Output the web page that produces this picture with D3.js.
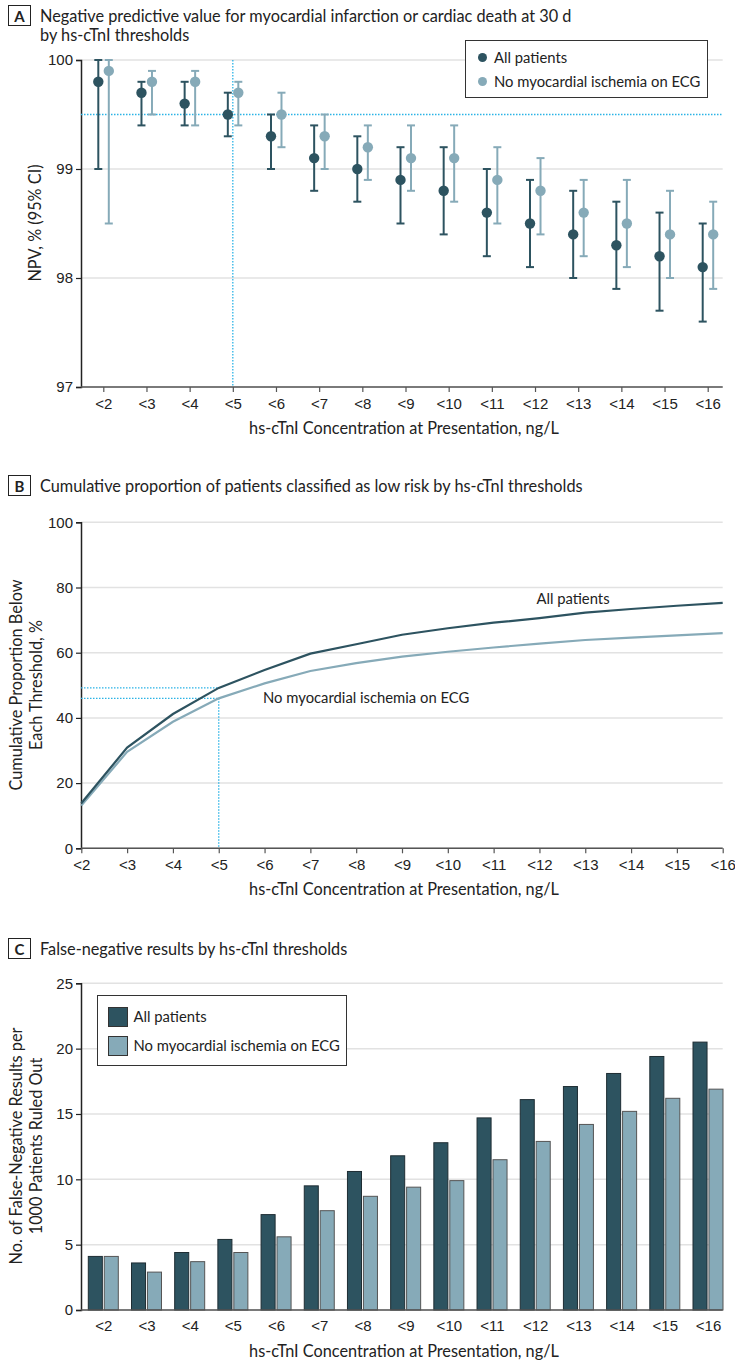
<!DOCTYPE html>
<html>
<head>
<meta charset="utf-8">
<title>hs-cTnI thresholds</title>
<style>
  body { margin: 0; background: #fff; }
  svg { font-family: Lato, "Open Sans", sans-serif; }
  .tick text { font-size: 15px; fill: #222; }
</style>
</head>
<body>
<div id="chart"></div>
<script src="https://cdn.jsdelivr.net/npm/d3@7"></script>
<script>
// thresholds
var thresholds = ["<2","<3","<4","<5","<6","<7","<8","<9","<10","<11","<12","<13","<14","<15","<16"];
var seriesNames = ["All patients", "No myocardial ischemia on ECG"];

// panel A: NPV with 95% CI
var npvAll     = [99.8, 99.7, 99.6, 99.5, 99.3, 99.1, 99.0, 98.9, 98.8, 98.6, 98.5, 98.4, 98.3, 98.2, 98.1];
var npvAllLo   = [99.0, 99.4, 99.4, 99.3, 99.0, 98.8, 98.7, 98.5, 98.4, 98.2, 98.1, 98.0, 97.9, 97.7, 97.6];
var npvAllHi   = [100.0, 99.8, 99.8, 99.7, 99.5, 99.4, 99.3, 99.2, 99.2, 99.0, 98.9, 98.8, 98.7, 98.6, 98.5];
var npvNoIsc   = [99.9, 99.8, 99.8, 99.7, 99.5, 99.3, 99.2, 99.1, 99.1, 98.9, 98.8, 98.6, 98.5, 98.4, 98.4];
var npvNoIscLo = [98.5, 99.5, 99.4, 99.4, 99.2, 99.0, 98.9, 98.8, 98.7, 98.5, 98.4, 98.2, 98.1, 98.0, 97.9];
var npvNoIscHi = [100.0, 99.9, 99.9, 99.8, 99.7, 99.5, 99.4, 99.4, 99.4, 99.2, 99.1, 98.9, 98.9, 98.8, 98.7];
var npvTicks = [97, 98, 99, 100];

// panel B: cumulative proportion below threshold, %
var cumAll   = [13.8, 30.9, 41.2, 49.2, 54.7, 59.7, 62.6, 65.5, 67.5, 69.2, 70.6, 72.3, 73.4, 74.4, 75.3];
var cumNoIsc = [13.1, 29.6, 38.8, 46.0, 50.6, 54.4, 56.8, 58.8, 60.3, 61.6, 62.8, 63.9, 64.6, 65.3, 66.0];
var cumTicks = [0, 20, 40, 60, 80, 100];

// panel C: false-negative results per 1000 ruled out
var fnAll   = [4.1, 3.6, 4.4, 5.4, 7.3, 9.5, 10.6, 11.8, 12.8, 14.7, 16.1, 17.1, 18.1, 19.4, 20.5];
var fnNoIsc = [4.1, 2.9, 3.7, 4.4, 5.6, 7.6, 8.7, 9.4, 9.9, 11.5, 12.9, 14.2, 15.2, 16.2, 16.9];
var fnTicks = [0, 5, 10, 15, 20, 25];

var dark = "#2d5360", light = "#86aab8", cyan = "#2bb3e6", grid = "#e2e2e2";
var left = 81, right = 722.7;
var titleSize = 16.3, labelSize = 14.8;

var svg = d3.select("#chart").append("svg").attr("width", 735).attr("height", 1365);

function panelTitle(letter, lines, y) {
  var g = svg.append("g");
  g.append("rect").attr("x", 8.5).attr("y", y - 16.5).attr("width", 22).attr("height", 20)
    .attr("fill", "none").attr("stroke", "#222").attr("stroke-width", 1);
  g.append("text").attr("x", 19.5).attr("y", y).attr("text-anchor", "middle")
    .attr("font-size", 15).attr("font-weight", "bold").attr("fill", "#222").text(letter);
  lines.forEach(function(t, i) {
    g.append("text").attr("x", 40).attr("y", y + i * 19).attr("font-size", titleSize)
      .attr("fill", "#222").text(t);
  });
}

function yAxis(y, ticks) {
  svg.append("g").selectAll("line").data(ticks).join("line")
    .attr("x1", left).attr("x2", right)
    .attr("y1", function(d) { return y(d); }).attr("y2", function(d) { return y(d); })
    .attr("stroke", grid).attr("stroke-width", 1.5);
  var ax = svg.append("g").attr("transform", "translate(" + left + ",0)")
    .call(d3.axisLeft(y).tickValues(ticks).tickSize(5).tickPadding(3).tickFormat(d3.format("d")));
  ax.select(".domain").attr("stroke", "#222").attr("stroke-width", 1.5);
  ax.selectAll(".tick line").attr("stroke", "#222").attr("stroke-width", 1.2);
}

function xAxis(x, yPos, tickLen, showTicks) {
  svg.append("line").attr("x1", left).attr("x2", right).attr("y1", yPos).attr("y2", yPos)
    .attr("stroke", "#555").attr("stroke-width", 1.5);
  var ax = svg.append("g").attr("transform", "translate(0," + yPos + ")")
    .call(d3.axisBottom(x).tickSize(showTicks ? tickLen : 0).tickPadding(showTicks ? 6 : 10));
  ax.select(".domain").remove();
  ax.selectAll(".tick line").attr("stroke", "#555").attr("stroke-width", 1.2);
  svg.append("text").attr("x", 404).attr("y", yPos + 47).attr("text-anchor", "middle")
    .attr("font-size", titleSize).attr("fill", "#222").text("hs-cTnI Concentration at Presentation, ng/L");
}

function yTitle(lines, cy) {
  var t = svg.append("text").attr("transform", "translate(0," + cy + ") rotate(-90)")
    .attr("text-anchor", "middle").attr("font-size", titleSize).attr("fill", "#222");
  lines.forEach(function(s, i) {
    t.append("tspan").attr("x", 0).attr("y", (lines.length === 1 ? 41 : 22 + i * 20)).text(s);
  });
}

// ---------- Panel A ----------
panelTitle("A", ["Negative predictive value for myocardial infarction or cardiac death at 30 d",
                 "by hs-cTnI thresholds"], 22);
var xA = d3.scalePoint().domain(thresholds).range([103.3, 707.7]);
var yA = d3.scaleLinear().domain([97, 100]).range([387, 60]);
yAxis(yA, npvTicks);
xAxis(xA, 387, 5, true);
yTitle(["NPV, % (95% CI)"], 223);

// reference lines at <5 and 99.5%
svg.append("line").attr("x1", left).attr("x2", right).attr("y1", yA(99.5)).attr("y2", yA(99.5))
  .attr("stroke", cyan).attr("stroke-width", 1.3).attr("stroke-dasharray", "1.5,1.5");
svg.append("line").attr("x1", xA("<5")).attr("x2", xA("<5")).attr("y1", yA(100)).attr("y2", yA(97))
  .attr("stroke", cyan).attr("stroke-width", 1.3).attr("stroke-dasharray", "1.5,1.5");

var npvSeries = [
  { name: seriesNames[0], color: dark, off: -5, v: npvAll, lo: npvAllLo, hi: npvAllHi },
  { name: seriesNames[1], color: light, off: 5.5, v: npvNoIsc, lo: npvNoIscLo, hi: npvNoIscHi }
];
npvSeries.forEach(function(s) {
  var g = svg.append("g");
  thresholds.forEach(function(t, i) {
    var cx = xA(t) + s.off;
    g.append("line").attr("x1", cx).attr("x2", cx).attr("y1", yA(s.lo[i])).attr("y2", yA(s.hi[i]))
      .attr("stroke", s.color).attr("stroke-width", 2);
    [s.lo[i], s.hi[i]].forEach(function(v) {
      g.append("line").attr("x1", cx - 4).attr("x2", cx + 4).attr("y1", yA(v)).attr("y2", yA(v))
        .attr("stroke", s.color).attr("stroke-width", 2);
    });
    g.append("circle").attr("cx", cx).attr("cy", yA(s.v[i])).attr("r", 5.2).attr("fill", s.color);
  });
});

// legend A
var legA = svg.append("g");
legA.append("rect").attr("x", 465.5).attr("y", 40.5).attr("width", 242).attr("height", 57)
  .attr("fill", "#fff").attr("stroke", "#333").attr("stroke-width", 1);
npvSeries.forEach(function(s, i) {
  legA.append("circle").attr("cx", 482.5).attr("cy", 57.5 + i * 24).attr("r", 4.5).attr("fill", s.color);
  legA.append("text").attr("x", 494).attr("y", 63 + i * 24).attr("font-size", labelSize).attr("fill", "#222").text(s.name);
});

// ---------- Panel B ----------
panelTitle("B", ["Cumulative proportion of patients classified as low risk by hs-cTnI thresholds"], 492);
var xB = d3.scalePoint().domain(thresholds).range([81.3, 722.7]);
var yB = d3.scaleLinear().domain([0, 100]).range([848.3, 522.3]);
yAxis(yB, cumTicks);
xAxis(xB, 848.3, 5, true);
yTitle(["Cumulative Proportion Below", "Each Threshold, %"], 685);

var i5 = thresholds.indexOf("<5");
[cumAll[i5], cumNoIsc[i5]].forEach(function(v) {
  svg.append("line").attr("x1", left).attr("x2", xB("<5")).attr("y1", yB(v)).attr("y2", yB(v))
    .attr("stroke", cyan).attr("stroke-width", 1.3).attr("stroke-dasharray", "1.5,1.5");
});
svg.append("line").attr("x1", xB("<5")).attr("x2", xB("<5")).attr("y1", yB(cumNoIsc[i5])).attr("y2", yB(0))
  .attr("stroke", cyan).attr("stroke-width", 1.3).attr("stroke-dasharray", "1.5,1.5");

var lineB = d3.line().x(function(d, i) { return xB(thresholds[i]); }).y(function(d) { return yB(d); });
svg.append("path").datum(cumNoIsc).attr("d", lineB).attr("fill", "none").attr("stroke", light).attr("stroke-width", 2.2);
svg.append("path").datum(cumAll).attr("d", lineB).attr("fill", "none").attr("stroke", dark).attr("stroke-width", 2.2);
svg.append("text").attr("x", 573).attr("y", 604).attr("text-anchor", "middle").attr("font-size", labelSize)
  .attr("fill", "#222").text(seriesNames[0]);
svg.append("text").attr("x", 263).attr("y", 703).attr("font-size", labelSize)
  .attr("fill", "#222").text(seriesNames[1]);

// ---------- Panel C ----------
panelTitle("C", ["False-negative results by hs-cTnI thresholds"], 955);
var xC = d3.scalePoint().domain(thresholds).range([103.3, 708]);
var xC1 = d3.scaleBand().domain(seriesNames).range([-15, 15]).paddingInner(0.12);
var yC = d3.scaleLinear().domain([0, 25]).range([1310, 983.3]);
yAxis(yC, fnTicks);
yTitle(["No. of False-Negative Results per", "1000 Patients Ruled Out"], 1146);

var fnSeries = [
  { name: seriesNames[0], color: dark, stroke: "#1e2d33", v: fnAll },
  { name: seriesNames[1], color: light, stroke: "#555", v: fnNoIsc }
];
fnSeries.forEach(function(s) {
  svg.append("g").selectAll("rect").data(s.v).join("rect")
    .attr("x", function(d, i) { return xC(thresholds[i]) + xC1(s.name); })
    .attr("width", xC1.bandwidth())
    .attr("y", function(d) { return yC(d); })
    .attr("height", function(d) { return yC(0) - yC(d); })
    .attr("fill", s.color).attr("stroke", s.stroke).attr("stroke-width", 1);
});
xAxis(xC, 1310, 0, false);

// legend C
var legC = svg.append("g");
legC.append("rect").attr("x", 97.5).attr("y", 995.5).attr("width", 249).attr("height", 70)
  .attr("fill", "#fff").attr("stroke", "#333").attr("stroke-width", 1);
fnSeries.forEach(function(s, i) {
  legC.append("rect").attr("x", 108.5).attr("y", 1007.5 + i * 29).attr("width", 19).attr("height", 19)
    .attr("fill", s.color).attr("stroke", "#333").attr("stroke-width", 1);
  legC.append("text").attr("x", 133.5).attr("y", 1022 + i * 29).attr("font-size", labelSize)
    .attr("fill", "#222").text(s.name);
});
</script>
</body>
</html>
